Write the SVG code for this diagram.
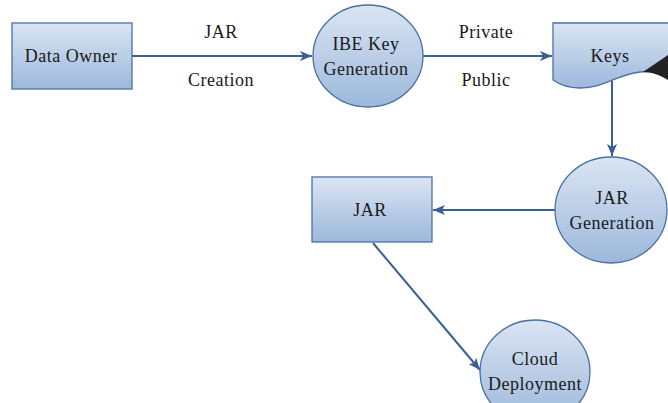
<svg xmlns="http://www.w3.org/2000/svg" width="668" height="403" viewBox="0 0 668 403">
  <defs>
    <linearGradient id="fillGrad" x1="0" y1="0" x2="0" y2="1">
      <stop offset="0" stop-color="#dbe5f2"/>
      <stop offset="1" stop-color="#9cb8dc"/>
    </linearGradient>
    <marker id="arrow" viewBox="0 0 12 10" refX="12" refY="5" markerWidth="12" markerHeight="10" markerUnits="userSpaceOnUse" orient="auto">
      <path d="M0,0 L12,5 L0,10 L3,5 Z" fill="#3a5f95"/>
    </marker>
    <style>
      .shape { fill: url(#fillGrad); stroke: #4a70a4; stroke-width: 1.3; }
      .conn { fill: none; stroke: #3a5f95; stroke-width: 2; }
      .lbl { font-size: 18px; letter-spacing: 0.5px; fill: #1a1a1a; text-anchor: middle; }
    </style>
  </defs>

  <g font-family="'Liberation Serif', 'DejaVu Serif', serif">
  <!-- connectors -->
  <g id="connectors">
    <line class="conn" x1="132" y1="56" x2="312" y2="56" marker-end="url(#arrow)"/>
    <line class="conn" x1="423" y1="56" x2="552" y2="56" marker-end="url(#arrow)"/>
    <line class="conn" x1="612" y1="81" x2="612" y2="156" marker-end="url(#arrow)"/>
    <line class="conn" x1="555" y1="210" x2="433" y2="210" marker-end="url(#arrow)"/>
    <line class="conn" x1="373" y1="243" x2="480" y2="370" marker-end="url(#arrow)"/>
    <text class="lbl" x="221" y="38">JAR</text>
    <text class="lbl" x="221" y="86">Creation</text>
    <text class="lbl" x="486" y="38">Private</text>
    <text class="lbl" x="486" y="86">Public</text>
  </g>

  <g id="data-owner">
    <rect class="shape" x="12" y="23" width="120" height="66"/>
    <text class="lbl" x="71" y="62">Data Owner</text>
  </g>

  <g id="ibe-key-generation">
    <ellipse class="shape" cx="368" cy="56" rx="55" ry="51"/>
    <text class="lbl" x="366" y="50">IBE Key</text>
    <text class="lbl" x="366" y="75">Generation</text>
  </g>

  <g id="keys">
    <path class="shape" d="M553,23 L680,23 L680,80 C668,74 655,70 640,72 C615,75 605,88 580,88 C568,88 560,85 553,80 Z"/>
    <path d="M643,72 L668,55 L668,80 C660,75 652,72 643,72 Z" fill="#222222"/>
    <text class="lbl" x="610" y="62">Keys</text>
  </g>

  <g id="jar-generation">
    <ellipse class="shape" cx="611" cy="210" rx="56" ry="53"/>
    <text class="lbl" x="612" y="204">JAR</text>
    <text class="lbl" x="612" y="229">Generation</text>
  </g>

  <g id="jar">
    <rect class="shape" x="312" y="177" width="120" height="65"/>
    <text class="lbl" x="370" y="216">JAR</text>
  </g>

  <g id="cloud-deployment">
    <ellipse class="shape" cx="535" cy="372" rx="55" ry="52"/>
    <text class="lbl" x="535" y="365">Cloud</text>
    <text class="lbl" x="535" y="390">Deployment</text>
  </g>
  </g>
</svg>
